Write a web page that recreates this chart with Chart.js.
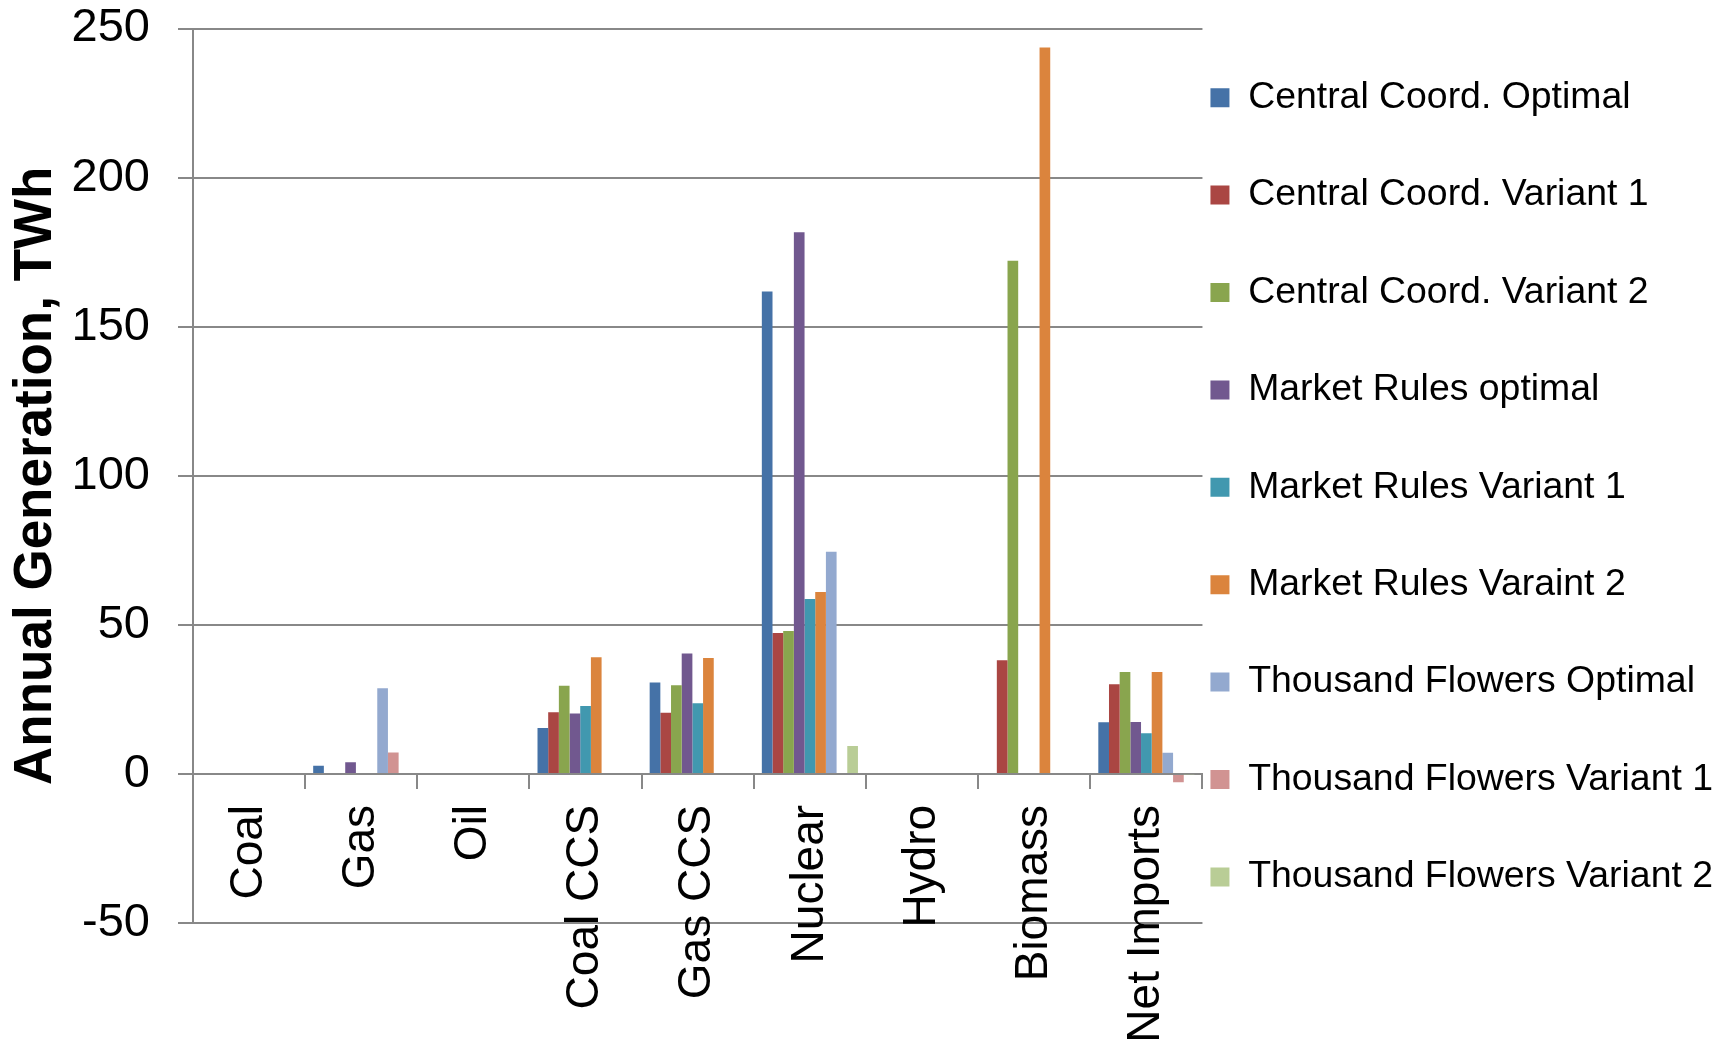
<!DOCTYPE html>
<html>
<head>
<meta charset="utf-8">
<title>Annual Generation</title>
<script src="https://cdn.jsdelivr.net/npm/chart.js@4.4.1/dist/chart.umd.min.js"></script>
<style>
  html, body { margin: 0; padding: 0; background: #fff; }
  #wrap { width: 1729px; height: 1049px; position: relative; }
</style>
</head>
<body>
<div id="wrap"><canvas id="genChart"></canvas></div>
<script>
// technology categories
const categories = ['Coal', 'Gas', 'Oil', 'Coal CCS', 'Gas CCS', 'Nuclear', 'Hydro', 'Biomass', 'Net Imports'];

// annual generation per scenario, TWh
const centralOptimal   = [0, 2.7, 0, 15.4, 30.7, 161.8, 0, 0, 17.3];
const centralVariant1  = [0, 0, 0, 20.7, 20.5, 47.3, 0, 38.1, 30.1];
const centralVariant2  = [0, 0, 0, 29.6, 29.7, 47.9, 0, 172.1, 34.2];
const marketOptimal    = [0, 3.9, 0, 20.3, 40.4, 181.7, 0, 0, 17.4];
const marketVariant1   = [0, 0, 0, 22.8, 23.7, 58.7, 0, 0, 13.6];
const marketVariant2   = [0, 0, 0, 39.1, 38.9, 61.0, 0, 243.6, 34.2];
const flowersOptimal   = [0, 28.7, 0, 0, 0, 74.5, 0, 0, 7.1];
const flowersVariant1  = [0, 7.2, 0, 0, 0, 0, 0, 0, -2.8];
const flowersVariant2  = [0, 0, 0, 0, 0, 9.4, 0, 0, -0.3];

const seriesNames = [
  'Central Coord. Optimal', 'Central Coord. Variant 1', 'Central Coord. Variant 2',
  'Market Rules optimal', 'Market Rules Variant 1', 'Market Rules Varaint 2',
  'Thousand Flowers Optimal', 'Thousand Flowers Variant 1', 'Thousand Flowers Variant 2'
];
const seriesData = [
  centralOptimal, centralVariant1, centralVariant2,
  marketOptimal, marketVariant1, marketVariant2,
  flowersOptimal, flowersVariant1, flowersVariant2
];
const seriesColors = ['#4572A7', '#AA4643', '#89A54E', '#71588F', '#4198AF', '#DB843D', '#93A9CF', '#D19392', '#B9CD96'];

// y axis range
const yMin = -50, yMax = 250, yStep = 50;

const axisGrey = '#888888';
const FONT = "'Liberation Sans', Arial, sans-serif";

Chart.defaults.color = '#000';
Chart.defaults.font.family = FONT;

const datasets = seriesNames.map((name, i) => ({
  label: name,
  data: seriesData[i],
  backgroundColor: seriesColors[i],
  borderWidth: 0,
  categoryPercentage: 0.857,
  barPercentage: 1.0
}));

new Chart(document.getElementById('genChart'), {
  type: 'bar',
  data: { labels: categories, datasets: datasets },
  options: {
    responsive: true,
    maintainAspectRatio: false,
    animation: false,
    layout: { padding: { top: 9, right: 6, bottom: 31.4, left: 0 } },
    plugins: {
      tooltip: { enabled: false },
      // empty bottom box: keeps room under the plot for the category labels,
      // since the x axis sits on the zero line and reserves no space itself
      title: {
        display: true,
        position: 'bottom',
        fullSize: false,
        text: '',
        font: { size: 10, lineHeight: 1 },
        padding: { top: 84.6, bottom: 0 }
      },
      legend: {
        position: 'right',
        align: 'center',
        maxWidth: 700,
        labels: {
          boxWidth: 19,
          boxHeight: 19,
          padding: 8,
          color: '#000',
          font: { size: 37.4, family: FONT, lineHeight: 89.4 / 37.4 },
          // wrap text in an array so the row height follows font.lineHeight
          generateLabels: (chart) =>
            Chart.defaults.plugins.legend.labels.generateLabels(chart).map(item => ({ ...item, text: [item.text] }))
        }
      }
    },
    scales: {
      x: {
        position: { y: 0 },
        grid: {
          display: true,
          drawOnChartArea: false,
          drawTicks: true,
          tickLength: 14,
          color: axisGrey,
          lineWidth: 2
        },
        border: { display: true, color: axisGrey, width: 2 },
        ticks: {
          autoSkip: false,
          minRotation: 90,
          maxRotation: 90,
          padding: 17,
          color: '#000',
          font: { size: 46, family: FONT }
        }
      },
      y: {
        min: yMin,
        max: yMax,
        afterFit: (scale) => { scale.width = 193; },
        grid: {
          color: axisGrey,
          lineWidth: 2,
          drawTicks: true,
          tickLength: 15
        },
        border: { display: true, color: axisGrey, width: 2 },
        ticks: {
          stepSize: yStep,
          padding: 28,
          color: '#000',
          // tiny line height keeps the end labels from pushing the plot inward
          font: { size: 47, family: FONT, lineHeight: 1 / 47 }
        },
        title: {
          display: true,
          text: 'Annual Generation, TWh',
          color: '#000',
          padding: { top: 5, bottom: 0 },
          font: { size: 53, weight: 'bold', family: FONT }
        }
      }
    }
  }
});
</script>
</body>
</html>
